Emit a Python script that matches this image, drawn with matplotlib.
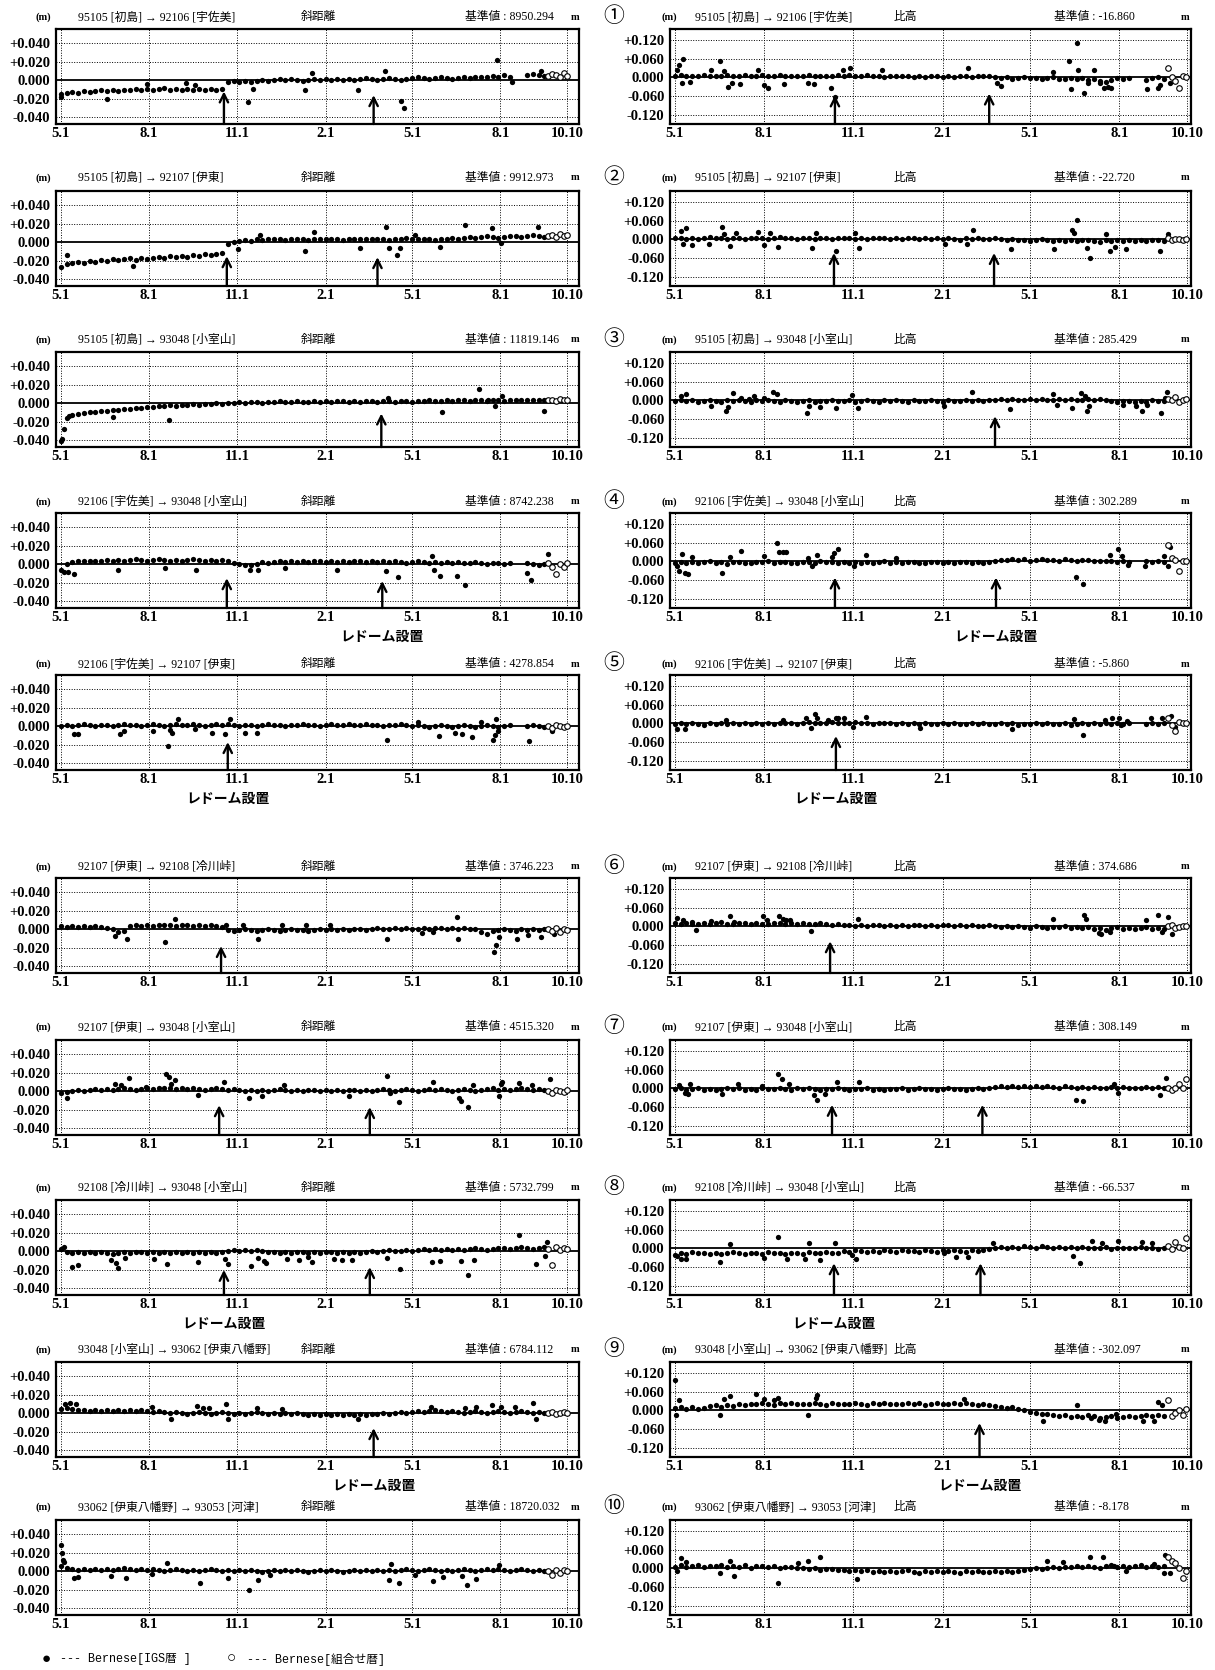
import matplotlib
matplotlib.use('Agg')
import matplotlib.pyplot as plt
import numpy as np

plt.rcParams['font.family'] = ['Liberation Serif', 'Noto Sans CJK JP', 'DejaVu Sans']

# time axis: days counted from 5.1 (1995) to 10.10 (1996)
tick_days = [0, 92, 184, 276, 366, 458, 528]
tick_labels = ['5.1', '8.1', '11.1', '2.1', '5.1', '8.1', '10.10']
sample_days = list(range(0, 505, 6))
open_days = [508, 512, 516, 520, 524, 527]

pairs = ['95105 [初島] → 92106 [宇佐美]', '95105 [初島] → 92107 [伊東]',
         '95105 [初島] → 93048 [小室山]', '92106 [宇佐美] → 93048 [小室山]',
         '92106 [宇佐美] → 92107 [伊東]', '92107 [伊東] → 92108 [冷川峠]',
         '92107 [伊東] → 93048 [小室山]', '92108 [冷川峠] → 93048 [小室山]',
         '93048 [小室山] → 93062 [伊東八幡野]', '93062 [伊東八幡野] → 93053 [河津]']
base_slope = ['8950.294', '9912.973', '11819.146', '8742.238', '4278.854',
              '3746.223', '4515.320', '5732.799', '6784.112', '18720.032']
base_height = ['-16.860', '-22.720', '285.429', '302.289', '-5.860',
               '374.686', '308.149', '-66.537', '-302.097', '-8.178']
circled = ['①', '②', '③', '④', '⑤', '⑥', '⑦', '⑧', '⑨', '⑩']

# ---- slope distance residuals (mm), Bernese IGS ephemeris ----
s1 = [-15, -14, -13, -14, -12, -13, -12, -11, -12, -11, -12, -10, -11, -9, -10, -9, -10, -9, -8, -10,
      -9, -10, -9, -10, -9, -10, -9, -10, -9,
      -2, -1, -2, -1, -2, -1, 0, -1, 0, 1, 0, 1, 0, -1, 0, 1, 0, 1, 0, 1,
      0, 1, 0, 1, 2, 1, 0, 1, 2, 1, 0, 1, 2, 3, 2, 1, 2, 3, 2, 1,
      2, 3, 2, 3, 4, 3, 5, 4, 6, 3, None, None, 6, 7, 6, 5]
s1_out_d = [0, 48, 90, 130, 140, 195, 200, 254, 262, 310, 338, 355, 358, 455, 470, 500]
s1_out_v = [-18, -20, -4, -3, -5, -23, -9, -11, 8, -10, 10, -22, -30, 22, -2, 10]
s1_open = [5, 7, 6, 4, 8, 5]

s2 = [-27, -23, -22, -21, -22, -20, -21, -19, -20, -18, -19, -18, -17, -19, -17, -18, -17, -16, -17, -15,
      -16, -15, -16, -14, -15, -13, -14, -13, -12,
      -2, 0, 1, 2, 1, 3, 2, 3, 4, 3, 2, 3, 4, 3, 2, 3, 4, 3, 4, 3,
      2, 3, 4, 3, 4, 3, 4, 3, 2, 3, 4, 5, 4, 3, 4, 3, 2, 3, 4, 5,
      4, 5, 6, 5, 6, 7, 6, 5, 6, 7, 7, 6, 7, 8, 7, 6]
s2_out_d = [6, 75, 185, 208, 254, 264, 312, 339, 342, 350, 353, 369, 395, 421, 449, 459, 497]
s2_out_v = [-14, -25, -7, 8, -9, 11, -6, 16, -6, -14, -6, 8, -5, 18, 15, -1, 16]
s2_open = [7, 8, 6, 9, 7, 8]

s3 = [-41, -16, -13, -12, -10, -9, -9, -8, -8, -7, -7, -6, -6, -5, -5, -4, -4, -3, -3, -2,
      -3, -2, -2, -1, -2, -1, -1, 0, -1,
      0, 0, 1, 0, 1, 1, 0, 1, 1, 2, 1, 1, 2, 1, 1, 2, 1, 2, 1, 2,
      2, 1, 2, 1, 2, 2, 1, 2, 2, 1, 2, 2, 1, 2, 2, 3, 2, 2, 3, 2,
      3, 3, 2, 4, 3, 2, 3, 4, 2, 3, 4, 3, 3, 4, 3, 4]
s3_out_d = [1, 3, 9, 54, 113, 341, 397, 436, 445, 452, 460, 504]
s3_out_v = [-38, -28, -14, -15, -18, 6, -9, 15, 4, -3, 8, -8]
s3_open = [3, 4, 2, 5, 3, 4]

s4 = [-6, 0, 2, 3, 3, 4, 3, 4, 5, 4, 5, 4, 5, 6, 5, 4, 5, 6, 5, 4,
      5, 4, 5, 6, 5, 4, 5, 4, 5,
      3, 1, 0, -1, -1, 0, 2, 1, 2, 3, 2, 3, 2, 3, 2, 3, 3, 2, 3, 2,
      3, 2, 3, 3, 2, 3, 2, 3, 2, 3, 2, 1, 2, 3, 2, 1, 2, 1, 2, 1,
      2, 1, 1, 2, 1, 0, 1, 1, 0, 1, None, None, 1, 0, -1, 0]
s4_out_d = [3, 8, 14, 60, 109, 141, 197, 205, 234, 288, 339, 351, 387, 389, 395, 413, 421, 486, 490, 508]
s4_out_v = [-8, -8, -10, -6, -4, -6, -6, -6, -4, -6, -7, -14, 9, -6, -13, -13, -22, -9, -17, 11]
s4_open = [1, -3, -10, 0, -3, 1]

s5 = [0, 1, 0, 1, 2, 1, 0, 1, 1, 0, 1, 2, 1, 1, 0, 1, 2, 1, 0, 1,
      2, 1, 1, 2, 1, 0, 1, 2, 1,
      2, 1, 0, 1, 1, 0, 1, 2, 1, 1, 0, 1, 1, 2, 1, 1, 0, 1, 2, 1,
      1, 2, 1, 1, 2, 1, 1, 0, 1, 1, 2, 1, 0, 1, 0, -1, 0, 1, 0, -1,
      0, 1, 0, -1, 0, 1, 0, -1, 0, 1, None, None, 0, 1, 0, -1]
s5_out_d = [14, 18, 62, 66, 96, 112, 114, 116, 122, 140, 158, 171, 176, 192, 204, 340, 372, 394,
            411, 418, 428, 438, 450, 452, 456, 454, 488, 512]
s5_out_v = [-8, -8, -8, -5, -5, -21, -4, -7, 8, -3, -7, -8, 8, -7, -7, -15, 5, -11,
            -7, -8, -12, 5, -15, -9, -5, 8, -16, -5]
s5_open = [0, -2, 1, 0, -1, 0]

s6 = [3, 2, 3, 2, 3, 2, 3, 2, 1, 0, -3, -2, 3, 4, 3, 4, 3, 4, 5, 4,
      3, 5, 4, 3, 4, 3, 4, 3, 2,
      -1, -2, -1, 0, -1, -2, -1, 0, -1, -2, -1, 0, -1, -1, -2, -1, 0, -1, 0, -1,
      0, -1, 0, 0, -1, 0, 1, 0, 0, 1, 0, 1, 0, 0, 1, 0, 1, 1, 0, 1,
      0, 1, 0, 0, -3, -5, -2, -1, 0, -1, -2, 0, -1, 0, -1, 0]
s6_out_d = [57, 69, 109, 119, 172, 190, 206, 231, 256, 281, 340, 376, 388, 413, 414, 451, 453, 457,
            475, 487, 500, 514]
s6_out_v = [-7, -10, -14, 11, 5, 4, -11, 4, 4, 4, -10, -4, -3, 13, -10, -24, -17, -8,
            -11, -6, -8, -5]
s6_open = [0, -2, 1, -3, 0, -1]

s7 = [-2, -1, 0, 1, 0, 1, 2, 1, 2, 1, 2, 3, 2, 1, 2, 3, 2, 3, 4, 3,
      2, 3, 2, 3, 2, 1, 2, 3, 2,
      1, 2, 1, 0, 1, 0, 1, 0, 1, 2, 1, 0, 1, 0, 1, 1, 0, 1, 0, 1,
      0, 1, 1, 0, 1, 0, 1, 2, 1, 0, 1, 2, 1, 0, 1, 2, 1, 2, 1, 0,
      1, 2, 1, 0, 1, 2, 3, 1, 2, 1, 2, 3, 2, 1, 2, 1]
s7_out_d = [6, 57, 63, 71, 89, 110, 113, 115, 119, 143, 170, 196, 210, 233, 300, 340, 343, 352,
            388, 415, 417, 424, 430, 457, 459, 460, 477, 491, 510]
s7_out_v = [-7, 8, 7, 14, 5, 19, 15, 8, 12, -4, 10, -7, -5, 7, -5, 16, -2, -12,
            10, -7, -11, -17, 7, -5, 8, 10, 9, 7, 13]
s7_open = [0, -2, 1, 0, -1, 1]

s8 = [2, -1, -2, -1, -2, -1, -2, -1, -2, -3, -2, -1, -2, -1, -1, -2, -1, -2, -1, -2,
      -1, -2, -1, -2, -1, -2, -1, -2, -1,
      0, 1, 0, 1, 0, 1, 0, -1, -1, -2, -1, -2, -1, -1, -2, -1, -2, -1, -1, -2,
      -1, -2, -1, -2, -1, 0, -1, 0, 1, 0, 0, 1, 0, 1, 2, 1, 2, 1, 2, 1,
      2, 1, 2, 3, 2, 1, 2, 3, 3, 2, 3, 4, 3, 2, 3, 4]
s8_out_d = [3, 12, 18, 52, 58, 60, 67, 97, 111, 143, 171, 174, 198, 206, 212, 214, 236, 248,
            258, 262, 285, 293, 303, 340, 353, 387, 395, 417, 424, 431, 477, 495, 505, 507]
s8_out_v = [4, -17, -15, -9, -13, -18, -7, -8, -14, -12, -8, -14, -16, -7, -11, -13, -8, -9,
            -6, -12, -8, -9, -9, -7, -19, -12, -11, -10, -25, -9, 17, -14, -5, 10]
s8_open = [2, -15, 4, 1, 3, 2]

s9 = [5, 6, 5, 4, 3, 2, 3, 2, 3, 2, 3, 2, 3, 2, 3, 2, 1, 2, 1, 0,
      1, 0, -1, 0, 1, 0, -1, 0, 1,
      0, -1, 0, -1, 0, 1, 0, -1, 0, -1, 0, -1, 0, -1, -2, -1, -2, -1, -2, -1,
      -2, -1, -2, -1, -2, -1, -1, 0, -1, 0, 1, 0, 1, 2, 1, 2, 3, 2, 1, 2,
      1, 0, 1, 2, 1, 0, 1, 2, 1, 0, 1, 2, 1, 0, 1, 0]
s9_out_d = [4, 10, 16, 95, 115, 142, 148, 154, 172, 174, 204, 231, 310, 386, 421, 433, 449, 459,
            473, 492, 495]
s9_out_v = [10, 11, 10, 7, -6, 8, 6, 6, 10, -6, 6, 5, -6, 7, 6, 7, 9, 7, 7, 11, -6]
s9_open = [0, 1, -1, 0, 1, 0]

s10 = [6, 3, 2, 1, 2, 1, 2, 1, 2, 1, 2, 3, 2, 1, 2, 1, 2, 1, 0, 1,
       2, 1, 0, 1, 0, 1, 2, 1, 0,
       1, 0, 1, 0, 1, 0, -1, 0, 1, 0, 1, 0, 1, 0, -1, 0, 1, 0, 1, 0,
       -1, 0, 1, 0, 1, 0, 1, 0, 1, 0, 1, 2, 1, 0, 1, 2, 1, 0, 1, 0,
       1, 2, 1, 0, 1, 2, 1, 2, 1, 0, 1, 2, 1, 0, 1, 0]
s10_out_d = [0, 1, 2, 3, 14, 18, 52, 68, 95, 111, 145, 174, 196, 206, 218, 344, 342, 352,
             369, 388, 398, 418, 423, 433, 457]
s10_out_v = [28, 20, 12, 10, -7, -6, -5, -7, -3, 9, -13, -7, -20, -9, -4, 8, -9, -13,
             -4, -11, -6, -5, -15, -8, 7]
s10_open = [0, -4, 1, -2, 1, 0]

# ---- height difference residuals (mm) ----
h1 = [5, 8, 3, 6, 4, 7, 5, 3, 6, 8, 4, 5, 7, 3, 5, 8, 6, 4, 7, 5,
      3, 6, 4, 7, 5, 3, 6, 4, 7,
      5, 8, 6, 4, 7, 3, 5, 2, 4, 6, 3, 5, 2, 4, 1, 3, 5, 2, 4, 1,
      3, 5, 2, 4, 6, 3, 1, -2, 0, -4, -2, 1, -3, -1, -5, -2, 0, -4, -6, -2,
      -5, -1, -8, -4, -12, -15, -8, -3, -6, -2, None, None, -7, -3, 0, -4]
h1_out_d = [2, 4, 8, 7, 16, 37, 47, 51, 55, 59, 67, 86, 92, 96, 113, 137, 143, 161, 165, 173,
            181, 214, 302, 332, 336, 390, 406, 408, 414, 416, 422, 426, 432, 438, 442, 446, 450,
            487, 498, 500, 510]
h1_out_v = [23, 40, 59, -17, -14, 25, 51, 19, -29, -17, -21, 23, -23, -34, -21, -17, -21, -32, -61, 23,
            29, 23, 29, -17, -26, 17, 51, -37, 109, 23, -51, -17, 23, -17, -34, -29, -34,
            -37, -34, -23, -19]
h1_open = [29, 0, -11, -32, 5, 0]

h2 = [3, 6, 2, 5, 1, 4, 7, 3, 5, 2, 6, 4, 1, 5, 3, 6, 2, 4, 7, 3,
      5, 1, 4, 6, 2, 5, 3, 1, 4,
      3, 6, 2, 4, 1, 5, 3, 6, 2, 4, 1, 3, 5, 2, 4, 0, 3, 1, 4, 2,
      -1, 3, 1, 4, 2, 0, 3, 1, -2, 0, -3, -1, -4, -2, 0, -3, -5, -1, -4, -2,
      -6, -3, -1, -4, -7, -2, -5, -3, -6, -2, -4, -1, -5, -3, -2, -4]
h2_out_d = [6, 12, 8, 18, 35, 49, 51, 57, 63, 86, 92, 98, 106, 141, 145, 166, 186, 190, 278, 301,
            307, 346, 391, 409, 411, 415, 425, 428, 444, 448, 454, 465, 500, 508]
h2_out_v = [27, 35, -14, -18, -14, 38, 18, -21, 21, 25, -18, 21, -24, -27, 21, -38, 21, -27, -16, -16,
            30, -29, -30, 29, 21, 61, -27, -59, 16, -38, -25, -29, -38, 16]
h2_open = [3, -3, 0, 2, -2, 0]

h3 = [-2, 1, -3, 0, -4, -1, 2, -2, -5, 0, -3, 1, -2, -4, 0, -1, 3, -2, -4, 1,
      -3, -6, -2, 0, -4, -1, -3, 1, -2,
      -3, 0, -4, -1, 2, -2, -5, 0, -3, 1, -2, -4, 0, -3, -1, 1, -2, -4, 0, -3,
      -1, 2, -2, 0, -3, 1, 3, 5, 2, 6, 3, 1, 4, 2, 5, 3, 0, 4, 2, 5,
      1, 3, 6, 2, 4, 0, -2, -4, -1, -3, -6, -2, -4, 0, -3, -1]
h3_out_d = [6, 12, 37, 53, 55, 60, 68, 76, 82, 92, 101, 105, 136, 138, 150, 166, 183, 189, 277, 306,
            345, 390, 394, 409, 419, 423, 425, 427, 462, 475, 481, 487, 501, 507, 505]
h3_out_v = [14, 19, -18, -32, -21, 25, 9, 5, 14, 9, 28, 21, -40, -18, -21, -24, 17, -24, -18, 28,
            -26, 19, -13, -24, 25, 14, -34, -18, -15, -18, -32, -13, -40, 28, 9]
h3_open = [6, 0, 11, -4, 3, 5]

h4 = [-5, -2, -6, -1, -4, -3, 0, -5, -2, -7, -3, -1, -4, -6, -2, -3, 0, -5, -3, -1,
      -4, -6, -2, -3, -5, 0, -3, -2, -4,
      -3, -6, -1, -4, -2, -5, -3, 0, -4, -2, -5, -3, -1, -4, -6, -2, -3, -5, -2, -4,
      -1, -3, -6, -2, -4, -3, 3, 6, 4, 8, 5, 7, 3, 6, 9, 4, 6, 3, 7, 5,
      2, 6, 4, 1, 3, 0, 2, -2, 1, -1, None, None, 2, -3, 0, -2]
h4_out_d = [2, 4, 7, 10, 14, 18, 49, 57, 68, 92, 105, 107, 111, 115, 137, 141, 146, 162, 164, 168,
            185, 197, 228, 413, 421, 448, 457, 461, 467, 485, 504, 508, 510]
h4_out_v = [-16, -29, 25, -36, -40, 14, -36, 14, 33, 18, 58, 29, 29, 29, 11, -16, 22, 14, 27, 40,
            -14, 22, 11, -51, -73, 22, 38, 16, -11, -16, 16, -16, 47]
h4_open = [51, 11, 5, -29, 3, 0]

h5 = [-2, 0, -3, 1, -1, -4, 0, -2, 1, -3, 0, -1, 2, -2, 0, -3, 1, -1, 2, 0,
      3, -1, 2, 4, 0, 3, 1, 4, 2,
      3, 0, 4, 1, 3, -1, 2, 0, 3, -2, 1, -1, 0, -3, 1, -1, -3, 0, -2, 1,
      -1, -3, 0, -2, 1, -1, -3, 0, -2, 1, -4, -1, -3, 0, -2, 1, -1, -3, 0, -4,
      -1, 1, -2, 0, -3, 2, -1, 1, -2, 0, None, None, -1, 1, -2, 0]
h5_out_d = [2, 10, 53, 111, 135, 144, 146, 140, 158, 166, 168, 174, 184, 197, 253, 348, 411, 421,
            443, 451, 458, 460, 466, 491, 502, 511, 515]
h5_out_v = [-18, -18, 11, 11, 18, 29, 18, -16, 11, 18, 18, 16, -11, 22, -16, -18, 14, -38,
            11, 18, 16, -5, 8, 16, 16, 24, -11]
h5_open = [18, -5, -25, 5, 0, 3]

h6 = [10, 8, 12, 9, 7, 11, 8, 10, 13, 9, 7, 10, 12, 8, 11, 9, 7, 10, 12, 8,
      11, 9, 10, 7, 9, 11, 8, 6, 9,
      3, 5, 1, 4, 2, 6, 3, 0, 4, 2, 5, 1, 3, 6, 2, 4, 0, 3, 5, 1,
      4, 2, 3, 0, 2, 4, 1, -2, 0, -3, 1, -1, -4, 0, -2, -5, -1, -3, 0, -4,
      -2, -6, -3, -8, -5, -10, -6, -3, -8, -4, -9, -6, -3, -7, -5, -8]
h6_out_d = [2, 8, 18, 22, 37, 57, 61, 91, 95, 107, 111, 115, 119, 140, 189, 390, 422, 424, 437, 439,
            449, 486, 498, 502, 508, 512]
h6_out_v = [28, 20, 15, -12, 17, 33, 15, 33, 20, 33, 25, 20, 20, -13, 25, 25, 37, 25, -20, -25,
            -17, 22, 37, -17, 30, -25]
h6_open = [0, 5, -5, -3, 2, 0]

h7 = [-3, 0, -5, -2, 1, -4, -1, -6, -2, 0, -3, 1, -4, -2, -5, 0, -3, -1, 2, -2,
      -4, 0, -3, 1, -2, -5, -1, -3, 0,
      -2, -5, -1, -3, 0, -4, -2, -5, -1, -3, 0, -4, -2, 1, -3, -1, -4, -2, 0, -3,
      -1, -4, -2, 0, -3, 2, 5, 8, 4, 7, 6, 9, 5, 7, 4, 8, 6, 3, 7, 5,
      2, 4, 1, 5, 3, 0, 4, 2, 6, 1, 3, 0, 4, 2, 5, 1]
h7_out_d = [4, 10, 14, 16, 49, 65, 90, 106, 110, 118, 143, 147, 155, 167, 190, 413, 421, 453, 457, 500,
            506]
h7_out_v = [12, -14, -19, 15, -19, 15, 8, 46, 29, 15, -22, -36, -19, 20, 20, -36, -39, 15, -14, -22,
            32]
h7_open = [3, -5, 0, 15, 2, 29]

h8 = [-20, -15, -18, -12, -16, -14, -19, -13, -17, -15, -11, -16, -18, -13, -15, -17, -12, -16, -14, -19,
      -13, -15, -17, -12, -16, -14, -11, -15, -13,
      -8, -11, -6, -9, -12, -7, -10, -5, -8, -11, -6, -9, -7, -10, -5, -8, -11, -6, -9, -4,
      -7, -10, -5, -8, -6, -3, 2, 5, 1, 6, 3, 8, 4, 2, 7, 5, 3, 6, 1, 4,
      2, 5, 0, 3, 1, 4, -1, 2, 0, 3, 1, 4, 0, 2, -1, 3]
h8_out_d = [2, 6, 12, 47, 57, 92, 106, 116, 134, 138, 150, 165, 183, 187, 277, 290, 302, 328, 410, 418,
            430, 440, 457, 482, 492]
h8_out_v = [-25, -33, -33, -42, 13, -30, 37, -33, -33, 17, -37, 17, -22, -33, -13, -28, -28, 17, -25, -47,
            25, 17, 25, 20, 17]
h8_open = [8, -3, 20, 5, 2, 33]

h9 = [8, 12, 5, 10, 6, 9, 13, 16, 12, 18, 15, 20, 17, 22, 19, 24, 20, 18, 23, 21,
      25, 19, 22, 20, 24, 21, 18, 23, 20,
      22, 19, 24, 21, 18, 23, 20, 25, 22, 19, 21, 24, 20, 23, 18, 22, 25, 21, 19, 23,
      20, 24, 22, 18, 21, 17, 14, 11, 8, 10, 6, 2, -4, -8, -12, -10, -15, -18, -14, -20,
      -17, -22, -16, -19, -24, -21, -18, -25, -20, -17, -22, -19, -15, -18, -14, -17]
h9_out_d = [0, 1, 4, 47, 51, 57, 84, 92, 102, 106, 137, 145, 147, 298, 379, 414, 429, 437, 443, 455,
            483, 494, 498, 502]
h9_out_v = [96, -13, 32, -16, 35, 45, 51, 35, 32, 40, -16, 40, 48, 35, -32, 16, -24, -29, -32, -10,
            -32, -32, 27, 16]
h9_open = [32, -19, -8, 0, -13, 6]

h10 = [6, 10, 4, 8, 12, 5, 9, 7, 11, 4, 8, 6, 10, 3, 7, 9, 5, 8, 2, 6,
       4, 0, 3, -2, 1, -4, -1, -3, -6,
       -4, -8, -5, -9, -6, -10, -7, -11, -8, -12, -9, -6, -10, -13, -8, -11, -9, -12, -7, -10,
       -13, -9, -11, -8, -12, -10, -7, -11, -9, -12, -8, -5, -2, 1, -1, 3, 5, 2, 6, 4,
       8, 5, 9, 6, 3, 7, 10, 5, 8, 4, 7, 10, 6, 9, 5, 8]
h10_out_d = [2, 6, 12, 47, 57, 61, 106, 127, 137, 150, 188, 384, 400, 428, 441, 453, 465, 494, 504, 505,
             510]
h10_out_v = [-8, 32, 19, -16, 24, -24, -45, 16, 24, 35, -35, 24, 19, 35, 35, 8, -8, 13, -16, 43,
             -16]
h10_open = [35, 24, 16, 3, -29, -8]

# radome installation arrows (day, tip in mm)
s_arrow_days = [[170, 326], [173, 330], [334], [173, 335], [174], [167], [165, 322], [170, 322], [326], []]
s_arrow_tips = [[-12, -16], [-15, -16], [-11], [-15, -18], [-17], [-18], [-15, -17], [-20, -17], [-16], []]
h_arrow_days = [[165, 324], [164, 329], [330], [165, 331], [166], [160], [162, 317], [164, 315], [314], []]
h_arrow_tips = [[-57, -51], [-43, -43], [-50], [-51, -51], [-40], [-47], [-52, -52], [-47, -47], [-40], []]
# which arrow carries the "レドーム設置" caption (row -> arrow day)
s_caption = {3: 335, 4: 174, 7: 170, 8: 326}
h_caption = {3: 331, 4: 166, 7: 164, 8: 314}

slope_sets = [(s1, s1_out_d, s1_out_v, s1_open), (s2, s2_out_d, s2_out_v, s2_open),
              (s3, s3_out_d, s3_out_v, s3_open), (s4, s4_out_d, s4_out_v, s4_open),
              (s5, s5_out_d, s5_out_v, s5_open), (s6, s6_out_d, s6_out_v, s6_open),
              (s7, s7_out_d, s7_out_v, s7_open), (s8, s8_out_d, s8_out_v, s8_open),
              (s9, s9_out_d, s9_out_v, s9_open), (s10, s10_out_d, s10_out_v, s10_open)]
height_sets = [(h1, h1_out_d, h1_out_v, h1_open), (h2, h2_out_d, h2_out_v, h2_open),
               (h3, h3_out_d, h3_out_v, h3_open), (h4, h4_out_d, h4_out_v, h4_open),
               (h5, h5_out_d, h5_out_v, h5_open), (h6, h6_out_d, h6_out_v, h6_open),
               (h7, h7_out_d, h7_out_v, h7_open), (h8, h8_out_d, h8_out_v, h8_open),
               (h9, h9_out_d, h9_out_v, h9_open), (h10, h10_out_d, h10_out_v, h10_open)]

# Layout (pixels)
W, H = 1215, 1670
title_y = [17, 178, 340, 502, 664, 867, 1027, 1188, 1350, 1507]
frame_top = [29, 191, 352, 513, 675, 878, 1040, 1200, 1362, 1520]
frame_h = 95
cols = {'s': (56, 579), 'h': (670, 1191)}

fig = plt.figure(figsize=(W / 100, H / 100), dpi=100)


def px(x, y):
    return x / W, 1 - y / H


def draw_panel(ax, data, xlim, ylim, yt, ytl, arrows, tips, caption):
    vals, out_d, out_v, opn = data
    v = np.array([np.nan if a is None else a for a in vals], dtype=float) / 1000
    n = min(len(v), len(sample_days))
    ax.set_xlim(*xlim)
    ax.set_ylim(*ylim)
    for d in tick_days:
        ax.axvline(d, color='black', lw=0.7, ls=(0, (1, 1.6)), zorder=1)
    for y in yt:
        if y != 0:
            ax.axhline(y, color='black', lw=0.7, ls=(0, (1, 1.6)), zorder=1)
    ax.axhline(0, color='black', lw=1.3, zorder=2)
    ax.plot(sample_days[:n], v[:n], 'o', ms=3.8, color='black', mew=0, zorder=3)
    od = [d for d, _ in zip(out_d, out_v)]
    ov = [y / 1000 for _, y in zip(out_d, out_v)]
    ax.plot(od, ov, 'o', ms=3.8, color='black', mew=0, zorder=3)
    ax.plot(open_days[:len(opn)], np.array(opn[:len(open_days)]) / 1000, 'o', ms=4,
            mfc='white', mec='black', mew=0.8, zorder=4)
    for d, t in zip(arrows, tips):
        ax.annotate('', xy=(d, t / 1000), xytext=(d, ylim[0]),
                    arrowprops=dict(arrowstyle='->,head_length=0.6,head_width=0.3',
                                    lw=1.7, color='black', shrinkA=0, shrinkB=0), zorder=5)
    if caption is not None:
        ax.text(caption, -0.30, 'レドーム設置', transform=ax.get_xaxis_transform(),
                ha='center', va='center', fontsize=10, fontweight='bold',
                family=['Noto Sans CJK JP'])
    ax.set_xticks(tick_days)
    ax.set_xticklabels(tick_labels)
    ax.set_yticks(yt)
    ax.set_yticklabels(ytl)
    ax.tick_params(axis='both', length=0, labelsize=10.5)
    ax.tick_params(axis='x', pad=2)
    ax.tick_params(axis='y', pad=4)
    for lab in ax.get_xticklabels() + ax.get_yticklabels():
        lab.set_fontweight('bold')
    for sp in ax.spines.values():
        sp.set_linewidth(1.6)


s_ylim = (-0.047, 0.055)
s_yt = [0.04, 0.02, 0.0, -0.02, -0.04]
s_ytl = ['+0.040', '+0.020', '0.000', '-0.020', '-0.040']
h_ylim = (-0.148, 0.154)
h_yt = [0.12, 0.06, 0.0, -0.06, -0.12]
h_ytl = ['+0.120', '+0.060', '0.000', '-0.060', '-0.120']

for i in range(10):
    top = frame_top[i]
    ty = title_y[i]
    # slope distance panel
    l, r = cols['s']
    ax = fig.add_axes([l / W, 1 - (top + frame_h) / H, (r - l) / W, frame_h / H])
    draw_panel(ax, slope_sets[i], (-5, 540), s_ylim, s_yt, s_ytl,
               s_arrow_days[i], s_arrow_tips[i], s_caption.get(i))
    fig.text(*px(43, ty), '(m)', fontsize=7.5, ha='center', va='center', fontweight='bold')
    fig.text(*px(78, ty), pairs[i], fontsize=8.5, ha='left', va='center')
    fig.text(*px(301, ty), '斜距離', fontsize=8.5, ha='left', va='center')
    fig.text(*px(465, ty), '基準値 : ' + base_slope[i], fontsize=8.5, ha='left', va='center')
    fig.text(*px(575, ty), 'm', fontsize=7.5, ha='center', va='center', fontweight='bold')

    # height difference panel
    l, r = cols['h']
    ax = fig.add_axes([l / W, 1 - (top + frame_h) / H, (r - l) / W, frame_h / H])
    draw_panel(ax, height_sets[i], (-5, 532), h_ylim, h_yt, h_ytl,
               h_arrow_days[i], h_arrow_tips[i], h_caption.get(i))
    fig.text(*px(614, ty - 1), circled[i], fontsize=15, ha='center', va='center',
             family=['Noto Sans CJK JP'])
    fig.text(*px(669, ty), '(m)', fontsize=7.5, ha='center', va='center', fontweight='bold')
    fig.text(*px(695, ty), pairs[i], fontsize=8.5, ha='left', va='center')
    fig.text(*px(894, ty), '比高', fontsize=8.5, ha='left', va='center')
    fig.text(*px(1054, ty), '基準値 : ' + base_height[i], fontsize=8.5, ha='left', va='center')
    fig.text(*px(1185, ty), 'm', fontsize=7.5, ha='center', va='center', fontweight='bold')

# legend line at the bottom
fig.text(*px(46, 1659), '●', fontsize=11, ha='center', va='center')
fig.text(*px(60, 1659), '--- Bernese[IGS暦 ]', fontsize=8.5, ha='left', va='center',
         family=['Liberation Mono', 'Noto Sans CJK JP'])
fig.text(*px(231, 1659), '○', fontsize=11, ha='center', va='center')
fig.text(*px(247, 1659), '--- Bernese[組合せ暦]', fontsize=8.5, ha='left', va='center',
         family=['Liberation Mono', 'Noto Sans CJK JP'])

fig.savefig('out.png', dpi=100)
